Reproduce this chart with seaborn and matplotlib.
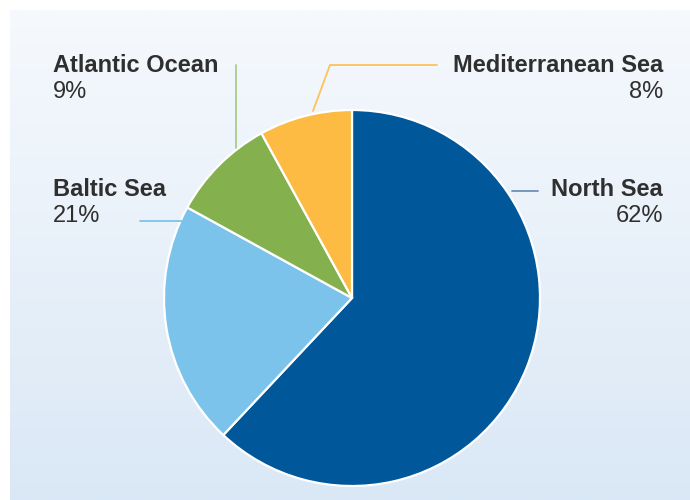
import numpy as np
import matplotlib
matplotlib.use("Agg")
import matplotlib.pyplot as plt
import seaborn as sns

# Share of catch by sea area (%)
regions = ["North Sea", "Baltic Sea", "Atlantic Ocean", "Mediterranean Sea"]
shares = [62, 21, 9, 8]
wedge_colors = ["#00579a", "#7cc3ec", "#84b04d", "#fdbb43"]
leader_colors = ["#6d90b8", "#7cc3ec", "#a9cc8a", "#fdc25a"]

sns.set_style("white")
plt.rcParams["font.family"] = ["Liberation Sans", "DejaVu Sans"]

W, H = 690, 500
fig = plt.figure(figsize=(W / 100, H / 100), dpi=100)
fig.patch.set_facecolor("white")

# one axes covering the figure, measured in pixels (y up)
ax = fig.add_axes([0, 0, 1, 1])
ax.set_axis_off()

# soft vertical gradient panel behind the chart
top = np.array([0xf6, 0xf9, 0xfd]) / 255
bottom = np.array([0xda, 0xe8, 0xf6]) / 255
t = np.linspace(0, 1, 256)[:, None]
grad = top[None, :] * (1 - t[:, :, None]) + bottom[None, :] * t[:, :, None]
grad = np.repeat(grad, 2, axis=1)
ax.imshow(grad, extent=(10, W, 0, H - 10), aspect="auto", zorder=0,
          interpolation="bilinear")

cx, cy, r = 352, H - 298, 188
ax.pie(shares, colors=wedge_colors, startangle=90, counterclock=False,
       center=(cx, cy), radius=r,
       wedgeprops=dict(edgecolor="white", linewidth=1.6), frame=True)
ax.set_xlim(0, W)
ax.set_ylim(0, H)
ax.set_aspect("equal")
ax.set_axis_off()

txt = "#2f2f2f"
fs = 17

def label(x, y, name, pct, ha):
    ax.text(x, H - y, name, ha=ha, va="center", fontsize=fs,
            fontweight="bold", color=txt, zorder=5)
    ax.text(x, H - y - 27, f"{pct}%", ha=ha, va="center", fontsize=fs,
            color=txt, zorder=5)

label(663, 189, regions[0], shares[0], "right")
label(53, 189, regions[1], shares[1], "left")
label(53, 65, regions[2], shares[2], "left")
label(663, 65, regions[3], shares[3], "right")

lw = 1.3
# leader lines
ax.plot([512, 538], [H - 191, H - 191], color=leader_colors[0], lw=lw, zorder=4)
ax.plot([140, 184], [H - 221, H - 221], color=leader_colors[1], lw=lw, zorder=4)
ax.plot([236, 236], [H - 65, H - 148], color=leader_colors[2], lw=lw, zorder=4)
ax.plot([313, 330, 437], [H - 111, H - 65, H - 65], color=leader_colors[3],
        lw=lw, zorder=4)

fig.savefig("out.png", dpi=100, facecolor="white")
